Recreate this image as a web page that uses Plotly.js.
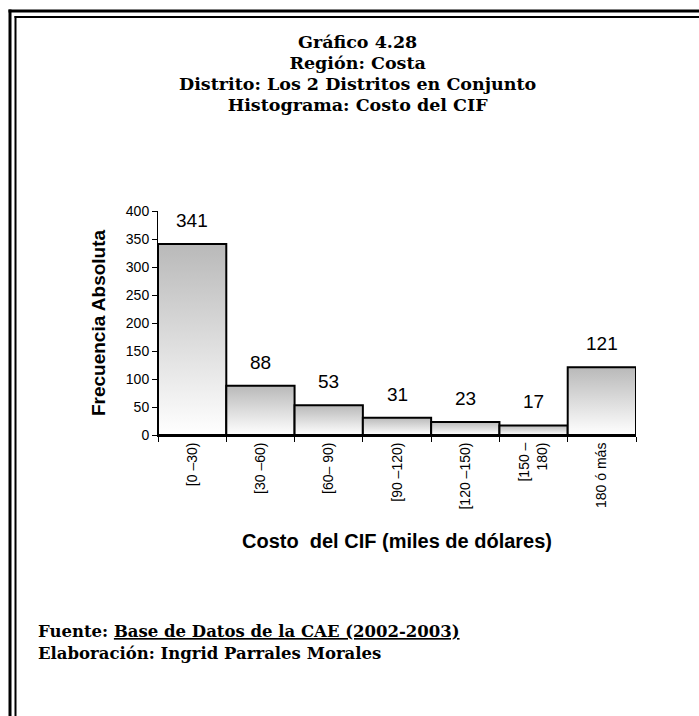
<!DOCTYPE html>
<html>
<head>
<meta charset="utf-8">
<script src="https://cdn.plot.ly/plotly-3.0.1.min.js"></script>
<style>
  body { margin: 0; background: #fff; }
  #chart { width: 699px; height: 716px; }
</style>
</head>
<body>
<div id="chart"></div>
<script>
// class intervals of the CIF cost (thousands of dollars)
var clases = ['[0 \u201330)', '[30 \u201360)', '[60\u2013 90)', '[90 \u2013120)', '[120 \u2013150)', '[150 \u2013<br>180)', '180 \u00f3 m\u00e1s'];
var frecuencia = [341, 88, 53, 31, 23, 17, 121];
var yTicks = [0, 50, 100, 150, 200, 250, 300, 350, 400];

var titulos = ['Gr\u00e1fico 4.28', 'Regi\u00f3n: Costa', 'Distrito: Los 2 Distritos en Conjunto', 'Histograma: Costo del CIF'];

// plot area in pixels, used to place the page furniture
var L = 158, R = 636, T = 211, B = 435;
function px(x) { return (x - L) / (R - L); }
function py(y) { return (B - y) / (B - T); }

var serif = 'DejaVu Serif, Liberation Serif, serif';
var sans = 'Liberation Sans, Arial, sans-serif';

var trace1 = {
    x: clases,
    y: frecuencia,
    type: 'bar',
    marker: {
        color: '#d6d6d6',
        line: { color: '#000', width: 2 }
    },
    hoverinfo: 'x+y'
};

var annotations = [];
// four title lines in one text; base size sets the tight line spacing
annotations.push({
    text: titulos.map(function (t) { return '<span style="font-size:17.5px"><b>' + t + '</b></span>'; }).join('<br>'),
    xref: 'paper', yref: 'paper',
    x: px(357), y: py(73.5),
    xanchor: 'center', yanchor: 'middle',
    showarrow: false,
    font: { family: serif, size: 16.2, color: '#000' }
});
frecuencia.forEach(function (v, i) {
    annotations.push({
        text: String(v),
        x: clases[i], y: v,
        xref: 'x', yref: 'y',
        yanchor: 'bottom', yshift: 11,
        showarrow: false,
        font: { family: sans, size: 19, color: '#000' }
    });
});
annotations.push({
    text: '<b>Fuente: <u>Base de Datos de la CAE (2002-2003)</u></b>',
    xref: 'paper', yref: 'paper',
    x: px(36), y: py(631),
    xanchor: 'left', yanchor: 'middle',
    showarrow: false,
    font: { family: serif, size: 16.5, color: '#000' }
});
annotations.push({
    text: '<b>Elaboraci\u00f3n: Ingrid Parrales Morales</b>',
    xref: 'paper', yref: 'paper',
    x: px(36), y: py(653),
    xanchor: 'left', yanchor: 'middle',
    showarrow: false,
    font: { family: serif, size: 16.5, color: '#000' }
});

// double frame round the page (runs off the right and bottom edges)
function hline(x0, y, w) {
    return { type: 'line', xref: 'paper', yref: 'paper', x0: px(x0), x1: px(760), y0: py(y), y1: py(y), line: { color: '#000', width: w } };
}
function vline(x, y0, w) {
    return { type: 'line', xref: 'paper', yref: 'paper', x0: px(x), x1: px(x), y0: py(y0), y1: py(780), line: { color: '#000', width: w } };
}
var shapes = [hline(8.5, 11, 3), vline(10, 9.5, 3), hline(14.5, 17, 2), vline(15.5, 16, 2)];

var layout = {
    width: 699,
    height: 716,
    margin: { l: L, r: 699 - R, t: T, b: 716 - B },
    paper_bgcolor: '#fff',
    plot_bgcolor: 'rgba(0,0,0,0)',
    showlegend: false,
    bargap: 0,
    font: { family: sans, color: '#000' },
    xaxis: {
        type: 'category',
        showline: true, linecolor: '#000', linewidth: 2,
        ticks: 'outside', ticklen: 5, tickcolor: '#000', tickwidth: 1,
        tickson: 'boundaries',
        tickangle: -90,
        tickfont: { family: sans, size: 14 },
        showgrid: false,
        title: { text: '<b>Costo\u00a0 del CIF (miles de d\u00f3lares)</b>', font: { family: sans, size: 20 }, standoff: 25 }
    },
    yaxis: {
        range: [0, 400],
        tickvals: yTicks,
        showline: true, linecolor: '#000', linewidth: 1,
        ticks: 'outside', ticklen: 5, tickcolor: '#000',
        tickfont: { family: sans, size: 14 },
        showgrid: false, zeroline: false,
        title: { text: '<b>Frecuencia Absoluta</b>', font: { family: sans, size: 19 }, standoff: 15 }
    },
    annotations: annotations,
    shapes: shapes
};

Plotly.newPlot('chart', [trace1], layout, { displayModeBar: false, staticPlot: true }).then(function (gd) {
    // grey-to-white vertical shading on every bar
    var svg = gd.querySelector('.main-svg');
    var ns = 'http://www.w3.org/2000/svg';
    var defs = svg.querySelector('defs') || svg.insertBefore(document.createElementNS(ns, 'defs'), svg.firstChild);
    var grad = document.createElementNS(ns, 'linearGradient');
    grad.setAttribute('id', 'barShade');
    grad.setAttribute('x1', '0'); grad.setAttribute('y1', '0');
    grad.setAttribute('x2', '0'); grad.setAttribute('y2', '1');
    [['0', '#b9b9b9'], ['1', '#ffffff']].forEach(function (s) {
        var stop = document.createElementNS(ns, 'stop');
        stop.setAttribute('offset', s[0]);
        stop.setAttribute('stop-color', s[1]);
        grad.appendChild(stop);
    });
    defs.appendChild(grad);
    gd.querySelectorAll('.trace.bars .point path').forEach(function (p) {
        p.style.fill = 'url(#barShade)';
    });
});
</script>
</body>
</html>
